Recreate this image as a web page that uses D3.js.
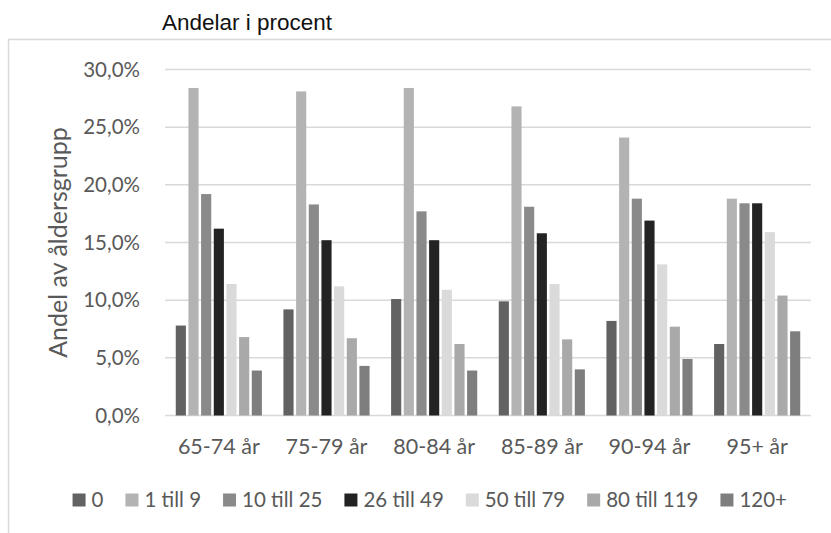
<!DOCTYPE html>
<html>
<head>
<meta charset="utf-8">
<script src="https://d3js.org/d3.v7.min.js"></script>
<style>
body{margin:0;background:#fff;}
svg{display:block;}
</style>
</head>
<body>
<svg id="chart" width="831" height="533"></svg>
<script>
// data (percent)
const ageGroups = ["65-74 år","75-79 år","80-84 år","85-89 år","90-94 år","95+ år"];
const seriesNames = ["0","1 till 9","10 till 25","26 till 49","50 till 79","80 till 119","120+"];
const s0    = [7.8, 9.2, 10.1, 9.9, 8.2, 6.2];
const s1_9  = [28.4, 28.1, 28.4, 26.8, 24.1, 18.8];
const s10_25= [19.2, 18.3, 17.7, 18.1, 18.8, 18.4];
const s26_49= [16.2, 15.2, 15.2, 15.8, 16.9, 18.4];
const s50_79= [11.4, 11.2, 10.9, 11.4, 13.1, 15.9];
const s80_119=[6.8, 6.7, 6.2, 6.6, 7.7, 10.4];
const s120  = [3.9, 4.3, 3.9, 4.0, 4.9, 7.3];
const yTicks = [0,5,10,15,20,25,30];
const colors = ["#626262","#b3b3b3","#8a8a8a","#232323","#dadada","#a9a9a9","#7e7e7e"];

const allSeries = [s0,s1_9,s10_25,s26_49,s50_79,s80_119,s120];
const font = "Lato, 'Open Sans', sans-serif";

const svg = d3.select("#chart");
const plotL = 165, plotR = 811, plotT = 69.5, plotB = 415.5;

// chart area border (only top and left visible in the picture)
svg.append("line").attr("x1",8).attr("x2",831).attr("y1",39.5).attr("y2",39.5)
  .attr("stroke","#d9d9d9").attr("stroke-width",1.5);
svg.append("line").attr("x1",8.5).attr("x2",8.5).attr("y1",39.5).attr("y2",533)
  .attr("stroke","#d9d9d9").attr("stroke-width",1.5);

svg.append("text").attr("x",162).attr("y",30)
  .attr("font-family","'Liberation Sans', Arial, sans-serif").attr("font-size",22.5)
  .attr("fill","#111").text("Andelar i procent");

const y = d3.scaleLinear().domain([0,30]).range([plotB,plotT]);
const x0 = d3.scaleBand().domain(ageGroups).range([plotL,plotR]).paddingInner(0.2).paddingOuter(0.1);
const x1 = d3.scaleBand().domain(d3.range(seriesNames.length)).range([0,x0.bandwidth()]).paddingInner(0.2);

// gridlines
svg.append("g").selectAll("line").data(yTicks).join("line")
  .attr("x1",plotL).attr("x2",plotR)
  .attr("y1",d=>y(d)).attr("y2",d=>y(d))
  .attr("stroke","#d9d9d9").attr("stroke-width",1.5);

// y axis labels
const yAxis = svg.append("g").attr("transform","translate(140,0)")
  .call(d3.axisLeft(y).tickValues(yTicks).tickSize(0).tickPadding(0)
    .tickFormat(d=>d3.format(".1f")(d).replace(".",",")+"%"));
yAxis.select(".domain").remove();
yAxis.selectAll("text").attr("font-family",font).attr("font-size",20.5).attr("fill","#595959");

// bars
const groups = svg.append("g").selectAll("g").data(ageGroups).join("g")
  .attr("transform",d=>`translate(${x0(d)},0)`);
groups.selectAll("rect").data((d,i)=>allSeries.map((s,k)=>({k:k,v:s[i]}))).join("rect")
  .attr("x",d=>x1(d.k)).attr("width",x1.bandwidth())
  .attr("y",d=>y(d.v)).attr("height",d=>y(0)-y(d.v))
  .attr("fill",d=>colors[d.k]);

// x axis labels
const xAxis = svg.append("g").attr("transform",`translate(0,${plotB})`)
  .call(d3.axisBottom(x0).tickSize(0).tickPadding(23));
xAxis.select(".domain").remove();
xAxis.selectAll("text").attr("font-family",font).attr("font-size",21.5).attr("fill","#595959");

// axis title
svg.append("text").attr("transform",`translate(67,${(plotT+plotB)/2}) rotate(-90)`)
  .attr("text-anchor","middle").attr("font-family",font).attr("font-size",25)
  .attr("fill","#595959").text("Andel av åldersgrupp");

// legend
const leg = svg.append("g");
const items = leg.selectAll("g").data(seriesNames).join("g");
items.append("rect").attr("width",13).attr("height",13).attr("y",-6.5)
  .attr("fill",(d,i)=>colors[i]);
items.append("text").attr("x",19).attr("dy","0.35em")
  .attr("font-family",font).attr("font-size",20.5).attr("fill","#595959").text(d=>d);
let xpos = 0;
items.each(function(){
  const w = 19 + d3.select(this).select("text").node().getComputedTextLength();
  d3.select(this).attr("transform",`translate(${xpos},0)`);
  xpos += w + 22;
});
const legW = xpos - 22;
leg.attr("transform",`translate(${787 - legW},500)`);
</script>
</body>
</html>
